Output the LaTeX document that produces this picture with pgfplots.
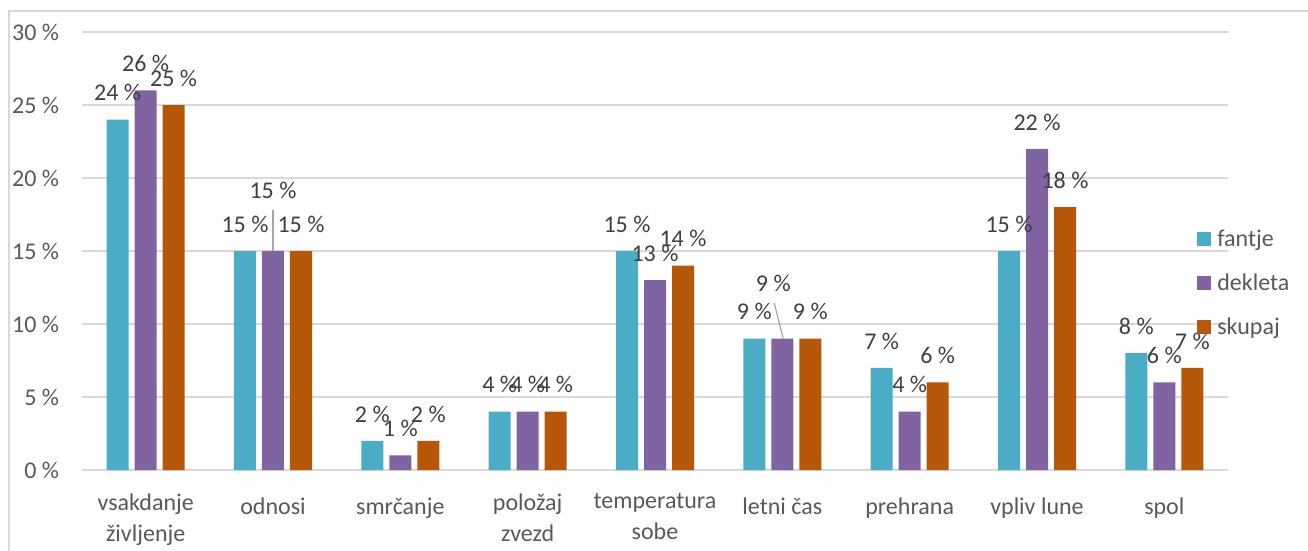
\documentclass[border=0pt]{standalone}
\usepackage{fontspec}
\setmainfont{Carlito}
\usepackage{pgfplots}
\usepackage{pgfplotstable}
\pgfplotsset{compat=1.18}
\definecolor{fantjec}{HTML}{4BACC6}
\definecolor{dekletac}{HTML}{8064A2}
\definecolor{skupajc}{HTML}{B7570A}
\definecolor{gridc}{HTML}{D9D9D9}
\definecolor{labc}{HTML}{595959}
\definecolor{valc}{HTML}{404040}
\definecolor{leadc}{HTML}{A6A6A6}

% x = category index, dx/dy = manual label offset (pt)
\pgfplotstableread{
x y dx dy
0 24 0 0
1 15 0 0
2 2 0 0
3 4 0 0
4 15 0 0
5 9 0 0
6 7 0 0
7 15 0 0
8 8 0 0
}\fantje
\pgfplotstableread{
x y dx dy
0 26 0 0
1 15 0 25.5
2 1 0 0
3 4 0 0
4 13 0 0
5 9 -6.75 21
6 4 0 0
7 22 0 0
8 6 0 0
}\dekleta
\pgfplotstableread{
x y dx dy
0 25 0 0
1 15 0 0
2 2 0 0
3 4 0 0
4 14 0 0
5 9 0 0
6 6 0 0
7 18 0 0
8 7 0 0
}\skupaj

\newcommand{\chartfont}{\fontsize{18}{20.25}\selectfont}

\begin{document}
\begin{tikzpicture}
\useasboundingbox (-61.5pt,-60pt) rectangle (919.5pt,352.5pt);
\draw[gridc, line width=1.5pt] (-54.75pt,-62pt) -- (-54.75pt,344.25pt) -- (922pt,344.25pt);
\begin{axis}[
  at={(0pt,0pt)}, anchor=south west,
  scale only axis, width=859.5pt, height=328.5pt,
  ybar=4.5pt, bar width=16.5pt,
  xmin=-0.5, xmax=8.5, ymin=0, ymax=30,
  xtick={0,...,8}, ytick={0,5,...,30},
  xticklabels={{vsakdanje\\[3pt]življenje},odnosi,smrčanje,{položaj\\[3pt]zvezd},{temperatura\\[3pt]sobe},letni čas,prehrana,vpliv lune,spol},
  axis line style={draw=none},
  major tick length=0pt,
  ymajorgrids, grid style={gridc, line width=1.1pt},
  /pgf/number format/assume math mode=true,
  yticklabel={\pgfmathprintnumber{\tick} \%},
  tick label style={font=\chartfont, text=labc},
  yticklabel style={anchor=east, inner sep=0pt, xshift=-17pt},
  xticklabel style={anchor=north, align=center, inner sep=0pt, yshift=-17.5pt,
    execute at begin node={\rule{0pt}{16pt}}},
  nodes near coords={\pgfmathprintnumber{\pgfplotspointmeta} \%},
  visualization depends on={\thisrow{dx} \as \lblx},
  visualization depends on={\thisrow{dy} \as \lbly},
  every node near coord/.append style={font=\chartfont, text=valc, anchor=base,
    inner sep=0pt, yshift=14pt, xshift=\lblx pt, yshift=\lbly pt},
  legend style={draw=none, fill=none, at={(0.973,0.427)}, anchor=west,
    inner sep=0pt, row sep=19pt, column sep=4.5pt,
    nodes={inner sep=0pt, font=\chartfont, text=labc}},
  legend cell align=left,
  legend image code/.code={\fill[#1] (0pt,-5.25pt) rectangle (10.5pt,5.25pt);},
]
\addplot[fill=fantjec, draw=none] table[x=x, y=y] {\fantje};
\addlegendentry{fantje}
\addplot[fill=dekletac, draw=none] table[x=x, y=y] {\dekleta};
\addlegendentry{dekleta}
\addplot[fill=skupajc, draw=none] table[x=x, y=y] {\skupaj};
\addlegendentry{skupaj}
% leader lines of the two moved labels
\draw[leadc, line width=0.9pt] (axis cs:1,15) -- (axis cs:1,17.8);
\draw[leadc, line width=0.9pt] (axis cs:5.007,9) -- (axis cs:4.936,11.45);
\end{axis}
\end{tikzpicture}
\end{document}
